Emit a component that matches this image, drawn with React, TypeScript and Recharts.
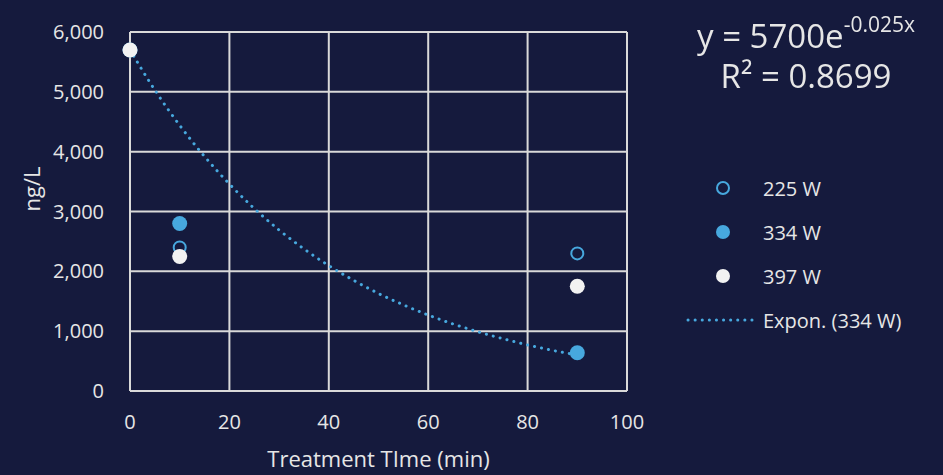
import React from 'react'
import {
  ComposedChart,
  Scatter,
  Line,
  XAxis,
  YAxis,
  CartesianGrid,
} from 'recharts'

const xTicks = [0, 20, 40, 60, 80, 100]
const yTicks = [0, 1000, 2000, 3000, 4000, 5000, 6000]

const w225 = [
  { x: 0, y: 5700 },
  { x: 10, y: 2400 },
  { x: 90, y: 2300 },
]
const w334 = [
  { x: 0, y: 5700 },
  { x: 10, y: 2800 },
  { x: 90, y: 640 },
]
const w397 = [
  { x: 0, y: 5700 },
  { x: 10, y: 2250 },
  { x: 90, y: 1750 },
]

// exponential trendline for 334 W
const trendX = [0, 5, 10, 15, 20, 25, 30, 35, 40, 45, 50, 55, 60, 65, 70, 75, 80, 85, 90]
const trendY = [5700, 5030, 4440, 3920, 3460, 3050, 2690, 2375, 2095, 1850, 1630, 1440, 1270, 1120, 990, 875, 770, 680, 600]
const trend = trendX.map((x, i) => ({ x, y: trendY[i] }))

const BG = '#151a3d'
const BLUE = '#47a8de'
const WHITE = '#f2f2f2'
const TEXT = '#e6e6e6'
const FONT = '"Open Sans", sans-serif'

const legendItems = [
  { name: '225 W', kind: 'hollow' },
  { name: '334 W', kind: 'blue' },
  { name: '397 W', kind: 'white' },
  { name: 'Expon. (334 W)', kind: 'line' },
]

function LegendBox() {
  return (
    <div style={styles.legend}>
      {legendItems.map((it) => (
        <div key={it.name} style={styles.legendRow}>
          <svg width={76} height={20} style={{ display: 'block' }}>
            {it.kind === 'line' ? (
              <line
                x1={4}
                y1={10}
                x2={72}
                y2={10}
                stroke={BLUE}
                strokeWidth={3}
                strokeLinecap="round"
                strokeDasharray="0.1 7"
              />
            ) : (
              <circle
                cx={39}
                cy={10}
                r={it.kind === 'hollow' ? 6 : 7}
                fill={it.kind === 'hollow' ? 'none' : it.kind === 'blue' ? BLUE : WHITE}
                stroke={it.kind === 'hollow' ? BLUE : 'none'}
                strokeWidth={2}
              />
            )}
          </svg>
          <span style={styles.legendText}>{it.name}</span>
        </div>
      ))}
    </div>
  )
}

export default function App() {
  return (
    <div style={styles.page}>
      <ComposedChart
        width={943}
        height={475}
        margin={{ top: 32, right: 316, bottom: 0, left: 0 }}
      >
        <CartesianGrid stroke="#d9d9d9" strokeWidth={2} />
        <XAxis
          dataKey="x"
          type="number"
          domain={[0, 100]}
          ticks={xTicks}
          height={84}
          axisLine={false}
          tickLine={false}
          tick={{ fill: TEXT, fontSize: 20, fontFamily: FONT }}
          tickMargin={18}
          label={{
            value: 'Treatment TIme (min)',
            position: 'insideBottom',
            offset: 8,
            fill: TEXT,
            fontSize: 22,
            fontFamily: FONT,
          }}
        />
        <YAxis
          type="number"
          domain={[0, 6000]}
          ticks={yTicks}
          width={130}
          axisLine={false}
          tickLine={false}
          tick={{ fill: TEXT, fontSize: 20, fontFamily: FONT }}
          tickMargin={20}
          tickFormatter={(v: number) => v.toLocaleString('en-US')}
          label={{
            value: 'ng/L',
            angle: -90,
            position: 'insideLeft',
            offset: 32,
            fill: TEXT,
            fontSize: 22,
            fontFamily: FONT,
          }}
        />
        <Scatter
          name="225 W"
          data={w225}
          dataKey="y"
          fill="none"
          stroke={BLUE}
          strokeWidth={2}
          shape={(p: any) => (
            <circle cx={p.cx} cy={p.cy} r={6} fill="none" stroke={BLUE} strokeWidth={2} />
          )}
          isAnimationActive={false}
        />
        <Scatter
          name="334 W"
          data={w334}
          dataKey="y"
          fill={BLUE}
          shape={(p: any) => <circle cx={p.cx} cy={p.cy} r={7.5} fill={BLUE} />}
          isAnimationActive={false}
        />
        <Scatter
          name="397 W"
          data={w397}
          dataKey="y"
          fill={WHITE}
          shape={(p: any) => <circle cx={p.cx} cy={p.cy} r={7.5} fill={WHITE} />}
          isAnimationActive={false}
        />
        <Line
          name="Expon. (334 W)"
          data={trend}
          dataKey="y"
          type="monotone"
          stroke={BLUE}
          strokeWidth={3}
          strokeLinecap="round"
          strokeDasharray="0.1 7"
          dot={false}
          activeDot={false}
          isAnimationActive={false}
        />
      </ComposedChart>
      <LegendBox />
      <div style={styles.equation}>
        <div style={{ height: 40 }}>
          y = 5700e<sup style={styles.sup}>-0.025x</sup>
        </div>
        <div style={{ height: 40 }}>R² = 0.8699</div>
      </div>
    </div>
  )
}

const styles: Record<string, React.CSSProperties> = {
  page: {
    position: 'fixed',
    left: 0,
    top: 0,
    width: 943,
    height: 475,
    background: BG,
    fontFamily: FONT,
  },
  legend: {
    position: 'absolute',
    left: 684,
    top: 166,
  },
  legendRow: {
    display: 'flex',
    alignItems: 'center',
    height: 44,
  },
  legendText: {
    color: TEXT,
    fontSize: 20,
    fontFamily: FONT,
    marginLeft: 3,
  },
  equation: {
    position: 'absolute',
    left: 668,
    top: 16,
    width: 276,
    textAlign: 'center',
    color: TEXT,
    fontSize: 33,
    lineHeight: '40px',
    fontFamily: FONT,
  },
  sup: {
    fontSize: 21,
    verticalAlign: 'top',
    lineHeight: '21px',
    position: 'relative',
    top: -2,
  },
}
